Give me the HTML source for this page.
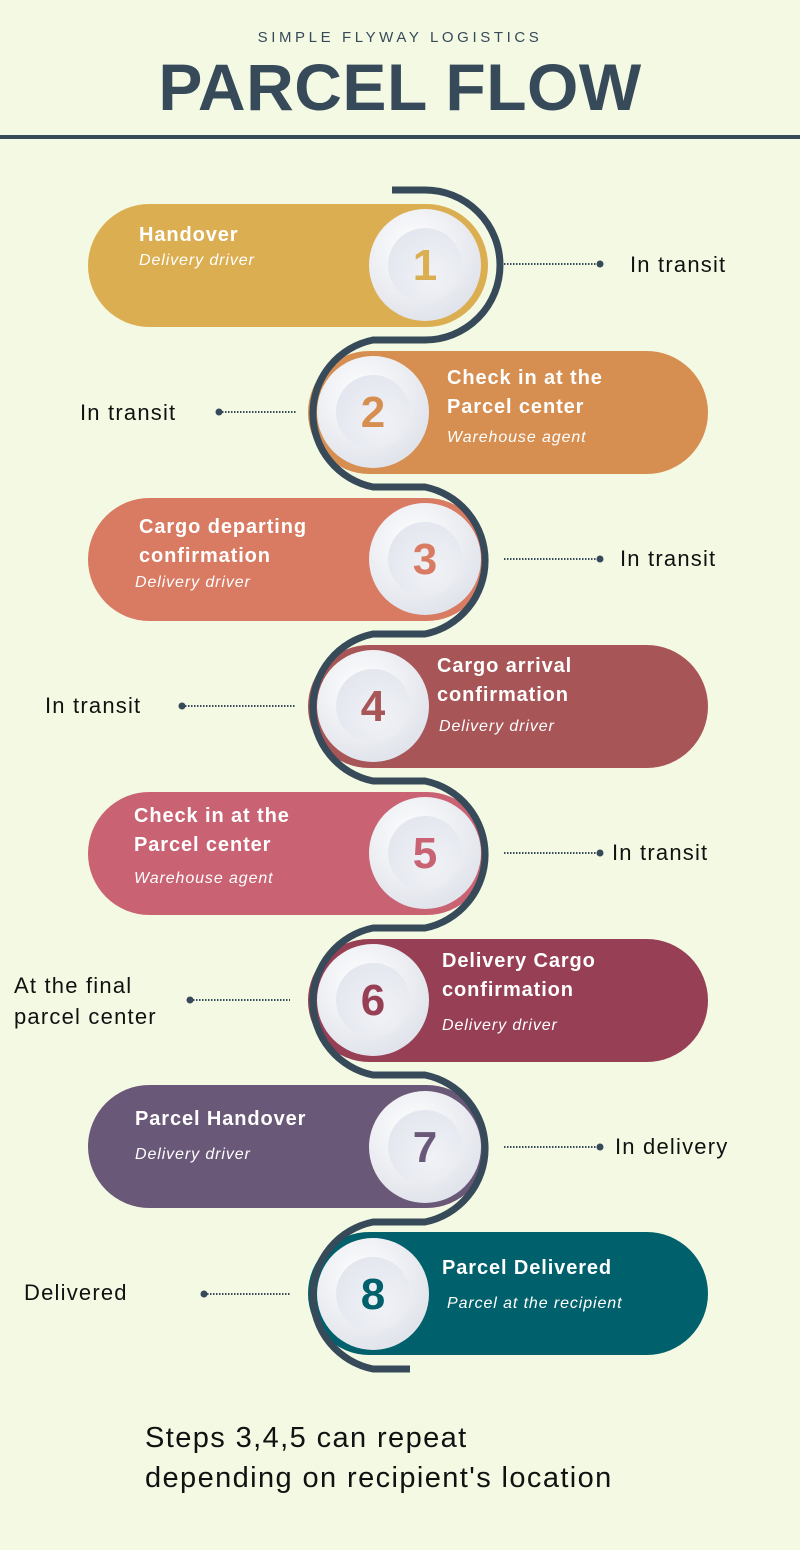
<!DOCTYPE html>
<html><head><meta charset="utf-8"><style>
body{margin:0;background:#f4f9e3;}
svg{display:block;font-family:"Liberation Sans",sans-serif;}
</style></head><body>
<svg width="800" height="1550" viewBox="0 0 800 1550">
<defs>
<radialGradient id="cg" cx="0.4" cy="0.35" r="0.7"><stop offset="0" stop-color="#ffffff"/><stop offset="1" stop-color="#dfe2ea"/></radialGradient>
<radialGradient id="ig" cx="0.6" cy="0.65" r="0.7"><stop offset="0" stop-color="#f0f2f6"/><stop offset="1" stop-color="#e3e6ee"/></radialGradient>
</defs>
<rect width="800" height="1550" fill="#f4f9e3"/>
<text x="400" y="42" text-anchor="middle" font-size="15" letter-spacing="3.6" fill="#364a5a">SIMPLE FLYWAY LOGISTICS</text>
<text x="400" y="110" text-anchor="middle" font-size="66" font-weight="bold" letter-spacing="0.5" fill="#364a5a">PARCEL FLOW</text>
<rect x="0" y="135" width="800" height="4" fill="#364a5a"/>

<g letter-spacing="0.9">
<g>
<rect x="88" y="204" width="400" height="123" rx="61.5" fill="#dcae52"/>
<text x="139" y="241" font-size="20" font-weight="bold" fill="#fff">Handover</text>
<text x="139" y="265" font-size="16" font-style="italic" fill="#fff">Delivery driver</text>
</g>
<g>
<rect x="308" y="351" width="400" height="123" rx="61.5" fill="#d68f51"/>
<text x="447" y="384" font-size="20" font-weight="bold" fill="#fff">Check in at the</text>
<text x="447" y="413" font-size="20" font-weight="bold" fill="#fff">Parcel center</text>
<text x="447" y="442" font-size="16" font-style="italic" fill="#fff">Warehouse agent</text>
</g>
<g>
<rect x="88" y="498" width="400" height="123" rx="61.5" fill="#d97a63"/>
<text x="139" y="533" font-size="20" font-weight="bold" fill="#fff">Cargo departing</text>
<text x="139" y="562" font-size="20" font-weight="bold" fill="#fff">confirmation</text>
<text x="135" y="587" font-size="16" font-style="italic" fill="#fff">Delivery driver</text>
</g>
<g>
<rect x="308" y="645" width="400" height="123" rx="61.5" fill="#a85557"/>
<text x="437" y="672" font-size="20" font-weight="bold" fill="#fff">Cargo arrival</text>
<text x="437" y="701" font-size="20" font-weight="bold" fill="#fff">confirmation</text>
<text x="439" y="731" font-size="16" font-style="italic" fill="#fff">Delivery driver</text>
</g>
<g>
<rect x="88" y="792" width="400" height="123" rx="61.5" fill="#c96373"/>
<text x="134" y="822" font-size="20" font-weight="bold" fill="#fff">Check in at the</text>
<text x="134" y="851" font-size="20" font-weight="bold" fill="#fff">Parcel center</text>
<text x="134" y="883" font-size="16" font-style="italic" fill="#fff">Warehouse agent</text>
</g>
<g>
<rect x="308" y="939" width="400" height="123" rx="61.5" fill="#963f55"/>
<text x="442" y="967" font-size="20" font-weight="bold" fill="#fff">Delivery Cargo</text>
<text x="442" y="996" font-size="20" font-weight="bold" fill="#fff">confirmation</text>
<text x="442" y="1030" font-size="16" font-style="italic" fill="#fff">Delivery driver</text>
</g>
<g>
<rect x="88" y="1085" width="400" height="123" rx="61.5" fill="#6a5878"/>
<text x="135" y="1125" font-size="20" font-weight="bold" fill="#fff">Parcel Handover</text>
<text x="135" y="1159" font-size="16" font-style="italic" fill="#fff">Delivery driver</text>
</g>
<g>
<rect x="308" y="1232" width="400" height="123" rx="61.5" fill="#00606b"/>
<text x="442" y="1274" font-size="20" font-weight="bold" fill="#fff">Parcel Delivered</text>
<text x="447" y="1308" font-size="16" font-style="italic" fill="#fff">Parcel at the recipient</text>
</g>
</g>

<path fill="none" stroke="#364a5a" stroke-width="7"
d="M392,190 H425 A75,75 0 0 1 425,340 H373 A75,75 0 0 0 373,487 H425 A75,75 0 0 1 425,634 H373 A75,75 0 0 0 373,781 H425 A75,75 0 0 1 425,928 H373 A75,75 0 0 0 373,1075 H425 A75,75 0 0 1 425,1222 H373 A75,75 0 0 0 373,1369 H410"/>

<g font-size="44" font-weight="bold" text-anchor="middle">
<g><circle cx="425" cy="265" r="56" fill="url(#cg)"/><circle cx="425" cy="265" r="37" fill="url(#ig)"/><text x="425" y="280" fill="#dcae52">1</text></g>
<g><circle cx="373" cy="412" r="56" fill="url(#cg)"/><circle cx="373" cy="412" r="37" fill="url(#ig)"/><text x="373" y="427" fill="#d68f51">2</text></g>
<g><circle cx="425" cy="559" r="56" fill="url(#cg)"/><circle cx="425" cy="559" r="37" fill="url(#ig)"/><text x="425" y="574" fill="#d97a63">3</text></g>
<g><circle cx="373" cy="706" r="56" fill="url(#cg)"/><circle cx="373" cy="706" r="37" fill="url(#ig)"/><text x="373" y="721" fill="#a85557">4</text></g>
<g><circle cx="425" cy="853" r="56" fill="url(#cg)"/><circle cx="425" cy="853" r="37" fill="url(#ig)"/><text x="425" y="868" fill="#c96373">5</text></g>
<g><circle cx="373" cy="1000" r="56" fill="url(#cg)"/><circle cx="373" cy="1000" r="37" fill="url(#ig)"/><text x="373" y="1015" fill="#963f55">6</text></g>
<g><circle cx="425" cy="1147" r="56" fill="url(#cg)"/><circle cx="425" cy="1147" r="37" fill="url(#ig)"/><text x="425" y="1162" fill="#6a5878">7</text></g>
<g><circle cx="373" cy="1294" r="56" fill="url(#cg)"/><circle cx="373" cy="1294" r="37" fill="url(#ig)"/><text x="373" y="1309" fill="#00606b">8</text></g>
</g>

<g stroke="#364a5a" stroke-width="2" stroke-dasharray="1.5,1.5" fill="#364a5a">
<line x1="504" y1="264" x2="600" y2="264"/><circle cx="600" cy="264" r="3.5" stroke="none"/>
<line x1="219" y1="412" x2="296" y2="412"/><circle cx="219" cy="412" r="3.5" stroke="none"/>
<line x1="504" y1="559" x2="600" y2="559"/><circle cx="600" cy="559" r="3.5" stroke="none"/>
<line x1="182" y1="706" x2="296" y2="706"/><circle cx="182" cy="706" r="3.5" stroke="none"/>
<line x1="504" y1="853" x2="600" y2="853"/><circle cx="600" cy="853" r="3.5" stroke="none"/>
<line x1="190" y1="1000" x2="290" y2="1000"/><circle cx="190" cy="1000" r="3.5" stroke="none"/>
<line x1="504" y1="1147" x2="600" y2="1147"/><circle cx="600" cy="1147" r="3.5" stroke="none"/>
<line x1="204" y1="1294" x2="290" y2="1294"/><circle cx="204" cy="1294" r="3.5" stroke="none"/>
</g>

<g font-size="22" fill="#111" letter-spacing="1.2">
<text x="630" y="272">In transit</text>
<text x="80" y="420">In transit</text>
<text x="620" y="566">In transit</text>
<text x="45" y="713">In transit</text>
<text x="612" y="860">In transit</text>
<text x="14" y="993">At the final</text>
<text x="14" y="1024">parcel center</text>
<text x="615" y="1154">In delivery</text>
<text x="24" y="1300">Delivered</text>
</g>
<g font-size="29" fill="#111" letter-spacing="1.4">
<text x="145" y="1447">Steps 3,4,5 can repeat</text>
<text x="145" y="1487">depending on recipient's location</text>
</g>
</svg>
</body></html>
